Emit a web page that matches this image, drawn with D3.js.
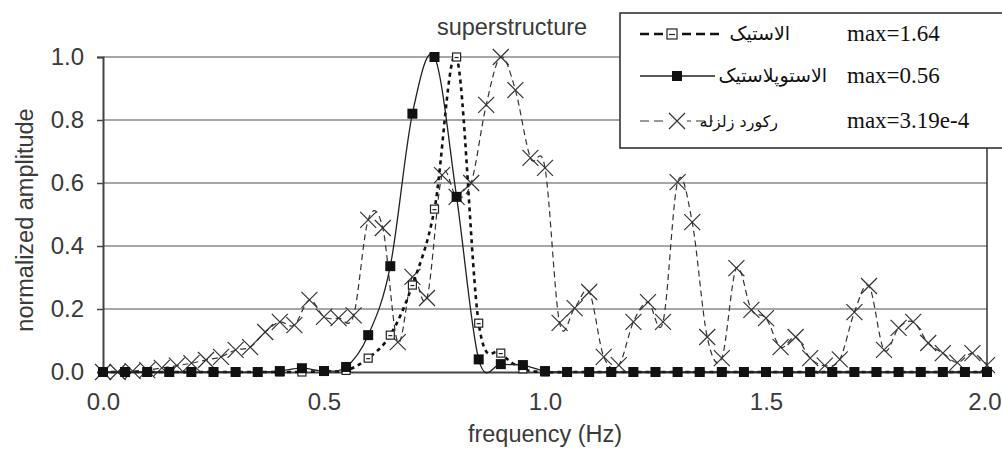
<!DOCTYPE html>
<html lang="en">
<head>
    <meta charset="UTF-8">
    <script src="https://d3js.org/d3.v7.min.js"></script>
    <title>normalized amplitude</title>
    <style>
        body { margin: 0; background: #fff; }
        svg text { font-family: "Liberation Sans", Arial, sans-serif; }
    </style>
</head>
<body>
    <script>
        // frequency grid of the two structure responses (Hz)
        var freqStructure = [0, 0.05, 0.1, 0.15, 0.2, 0.25, 0.3, 0.35, 0.4, 0.45,
            0.5, 0.55, 0.6, 0.65, 0.7, 0.75, 0.8, 0.85, 0.9, 0.95,
            1.0, 1.05, 1.1, 1.15, 1.2, 1.25, 1.3, 1.35, 1.4, 1.45,
            1.5, 1.55, 1.6, 1.65, 1.7, 1.75, 1.8, 1.85, 1.9, 1.95, 2.0]

        // elastic (open squares, heavy dotted)
        var elastic = [0, 0, 0, 0, 0, 0, 0, 0, 0, 0,
            0.003, 0.005, 0.044, 0.117, 0.276, 0.517, 1.0, 0.155, 0.06, 0.01,
            0, 0, 0, 0, 0, 0, 0, 0, 0, 0,
            0, 0, 0, 0, 0, 0, 0, 0, 0, 0, 0]

        // elastoplastic (filled squares, solid)
        var elastoplastic = [0, 0, 0, 0, 0, 0, 0, 0, 0.003, 0.012,
            0.003, 0.016, 0.117, 0.336, 0.82, 1.0, 0.556, 0.04, 0.025, 0.022,
            0.003, 0, 0, 0, 0, 0, 0, 0, 0, 0,
            0, 0, 0, 0, 0, 0, 0, 0, 0, 0, 0]

        // earthquake record spectrum
        var freqRecord = [0, 0.033, 0.067, 0.1, 0.133, 0.167, 0.2, 0.233, 0.267, 0.3,
            0.333, 0.367, 0.4, 0.433, 0.467, 0.5, 0.533, 0.567, 0.6, 0.633,
            0.667, 0.7, 0.733, 0.767, 0.8, 0.833, 0.867, 0.9, 0.933, 0.967,
            1.0, 1.033, 1.067, 1.1, 1.133, 1.167, 1.2, 1.233, 1.267, 1.3,
            1.333, 1.367, 1.4, 1.433, 1.467, 1.5, 1.533, 1.567, 1.6, 1.633,
            1.667, 1.7, 1.733, 1.767, 1.8, 1.833, 1.867, 1.9, 1.933, 1.967, 2.0]
        var record = [0, 0, 0.003, 0.006, 0.013, 0.02, 0.028, 0.038, 0.048, 0.07,
            0.079, 0.127, 0.159, 0.149, 0.229, 0.175, 0.171, 0.18, 0.483, 0.457,
            0.095, 0.302, 0.235, 0.625, 0.556, 0.6, 0.848, 1.0, 0.895, 0.68,
            0.648, 0.156, 0.203, 0.254, 0.048, 0.022, 0.159, 0.222, 0.159, 0.603,
            0.476, 0.111, 0.044, 0.33, 0.197, 0.171, 0.079, 0.111, 0.044, 0.02,
            0.04, 0.19, 0.273, 0.07, 0.14, 0.159, 0.092, 0.06, 0.03, 0.06, 0.022]

        var yTicks = [0, 0.2, 0.4, 0.6, 0.8, 1.0]
        var xTicks = [0, 0.5, 1.0, 1.5, 2.0]

        var legendNames = ["الاستیک", "الاستوپلاستیک", "ركورد زلزله"]
        var legendMax = ["max=1.64", "max=0.56", "max=3.19e-4"]

        var svg = d3.select("body").append("svg")
            .attr("width", 1002)
            .attr("height", 449)

        var x = d3.scaleLinear().domain([0, 2]).range([103, 987])
        var y = d3.scaleLinear().domain([0, 1]).range([372, 57])

        // gridlines
        svg.append("g").selectAll("line")
            .data(yTicks.slice(1))
            .join("line")
            .attr("x1", x(0)).attr("x2", x(2))
            .attr("y1", d => y(d)).attr("y2", d => y(d))
            .attr("stroke", "#8a8a8a").attr("stroke-width", 1.6)

        // right border
        svg.append("line")
            .attr("x1", x(2)).attr("x2", x(2))
            .attr("y1", y(1)).attr("y2", y(0))
            .attr("stroke", "#333").attr("stroke-width", 1.5)

        // y axis
        var yAxis = svg.append("g")
            .attr("transform", "translate(" + x(0) + ",0)")
            .call(d3.axisLeft(y).tickValues(yTicks).tickFormat(d3.format(".1f")).tickSize(6).tickPadding(13))
        yAxis.attr("font-size", null).attr("font-family", null)
        yAxis.select(".domain").attr("stroke", "#444").attr("stroke-width", 2)
        yAxis.selectAll(".tick line").attr("stroke", "#444").attr("stroke-width", 1.5)
        yAxis.selectAll("text").style("font-size", "24px").attr("fill", "#3a3a3a")

        // x axis
        var xAxis = svg.append("g")
            .attr("transform", "translate(0," + y(0) + ")")
            .call(d3.axisBottom(x).tickValues(xTicks).tickFormat(d3.format(".1f")).tickSize(0))
        xAxis.attr("font-size", null).attr("font-family", null)
        xAxis.select(".domain").attr("stroke", "#444").attr("stroke-width", 2)
        xAxis.selectAll("text").style("font-size", "24px").attr("fill", "#3a3a3a")
            .attr("y", 38).attr("dy", 0)
        // last label sits against the right edge
        xAxis.selectAll("text").filter(d => d === 2)
            .attr("text-anchor", "end").attr("x", 1001 - x(2))

        svg.append("text")
            .attr("x", 545).attr("y", 442)
            .attr("text-anchor", "middle")
            .style("font-size", "23.5px").attr("fill", "#3a3a3a")
            .text("frequency (Hz)")

        svg.append("text")
            .attr("transform", "translate(33,220) rotate(-90)")
            .attr("text-anchor", "middle")
            .style("font-size", "23.5px").attr("fill", "#3a3a3a")
            .text("normalized amplitude")

        svg.append("text")
            .attr("x", 512).attr("y", 35)
            .attr("text-anchor", "middle")
            .style("font-size", "23.5px").attr("fill", "#3a3a3a")
            .text("superstructure")

        var smooth = d3.curveCardinal.tension(0)

        // earthquake record
        var recPts = freqRecord.map((f, i) => [f, record[i]])
        svg.append("path")
            .attr("d", d3.line().x(d => x(d[0])).y(d => y(d[1])).curve(smooth)(recPts))
            .attr("fill", "none").attr("stroke", "#333")
            .attr("stroke-width", 1.2).attr("stroke-dasharray", "6,4")

        function drawCross(g, cx, cy, r) {
            g.append("path")
                .attr("d", "M" + (cx - r) + "," + (cy - r) + "L" + (cx + r) + "," + (cy + r) +
                    "M" + (cx - r) + "," + (cy + r) + "L" + (cx + r) + "," + (cy - r))
                .attr("stroke", "#333").attr("stroke-width", 1.2).attr("fill", "none")
        }
        var crossG = svg.append("g")
        recPts.forEach(d => drawCross(crossG, x(d[0]), y(d[1]), 8))

        // elastic
        var elPts = freqStructure.map((f, i) => [f, elastic[i]])
        svg.append("path")
            .attr("d", d3.line().x(d => x(d[0])).y(d => y(d[1])).curve(smooth)(elPts))
            .attr("fill", "none").attr("stroke", "#111")
            .attr("stroke-width", 2.6).attr("stroke-dasharray", "4,4")

        function drawOpenSquare(g, cx, cy, s) {
            g.append("rect")
                .attr("x", cx - s / 2).attr("y", cy - s / 2)
                .attr("width", s).attr("height", s)
                .attr("fill", "#fff").attr("stroke", "#222").attr("stroke-width", 1.2)
            g.append("line")
                .attr("x1", cx - s / 2 + 2).attr("x2", cx + s / 2 - 2)
                .attr("y1", cy + 0.5).attr("y2", cy + 0.5)
                .attr("stroke", "#222").attr("stroke-width", 1.2)
        }
        var openG = svg.append("g")
        elPts.forEach(d => drawOpenSquare(openG, x(d[0]), y(d[1]), 8))

        // elastoplastic
        var epPts = freqStructure.map((f, i) => [f, elastoplastic[i]])
        svg.append("path")
            .attr("d", d3.line().x(d => x(d[0])).y(d => y(d[1])).curve(smooth)(epPts))
            .attr("fill", "none").attr("stroke", "#222").attr("stroke-width", 1.3)

        svg.append("g").selectAll("rect")
            .data(epPts)
            .join("rect")
            .attr("x", d => x(d[0]) - 5).attr("y", d => y(d[1]) - 5)
            .attr("width", 10).attr("height", 10)
            .attr("fill", "#111")

        // legend
        var lg = svg.append("g")
        lg.append("rect")
            .attr("x", 620).attr("y", 13)
            .attr("width", 400).attr("height", 135)
            .attr("fill", "#fff").attr("stroke", "#333").attr("stroke-width", 1.6)

        var rowY = [34, 76, 121]
        var nameEnd = [790, 827, 778]
        var nameSize = ["19px", "19px", "16px"]

        lg.append("line").attr("x1", 640).attr("x2", 720).attr("y1", rowY[0]).attr("y2", rowY[0])
            .attr("stroke", "#111").attr("stroke-width", 2.6).attr("stroke-dasharray", "9,5")
        drawOpenSquare(lg, 672, rowY[0], 10)

        lg.append("line").attr("x1", 640).attr("x2", 715).attr("y1", rowY[1]).attr("y2", rowY[1])
            .attr("stroke", "#222").attr("stroke-width", 1.3)
        lg.append("rect").attr("x", 672).attr("y", rowY[1] - 5).attr("width", 10).attr("height", 10)
            .attr("fill", "#111")

        lg.append("line").attr("x1", 640).attr("x2", 713).attr("y1", rowY[2]).attr("y2", rowY[2])
            .attr("stroke", "#333").attr("stroke-width", 1.2).attr("stroke-dasharray", "9,5")
        lg.append("rect").attr("x", 667).attr("y", rowY[2] - 9).attr("width", 20).attr("height", 18)
            .attr("fill", "#fff")
        drawCross(lg, 677, rowY[2], 8)

        lg.selectAll("text.name")
            .data(legendNames)
            .join("text")
            .attr("class", "name")
            .attr("x", (d, i) => nameEnd[i]).attr("y", (d, i) => rowY[i] + 6)
            .attr("text-anchor", "end")
            .attr("fill", "#111")
            .style("font-size", (d, i) => nameSize[i])
            .style("font-family", "'DejaVu Sans', sans-serif")
            .text(d => d)

        lg.selectAll("text.max")
            .data(legendMax)
            .join("text")
            .attr("class", "max")
            .attr("x", 847).attr("y", (d, i) => rowY[i] + 7)
            .attr("fill", "#111")
            .style("font-size", "23px")
            .style("font-family", "'Liberation Serif', 'Times New Roman', serif")
            .text(d => d)
    </script>
</body>
</html>
